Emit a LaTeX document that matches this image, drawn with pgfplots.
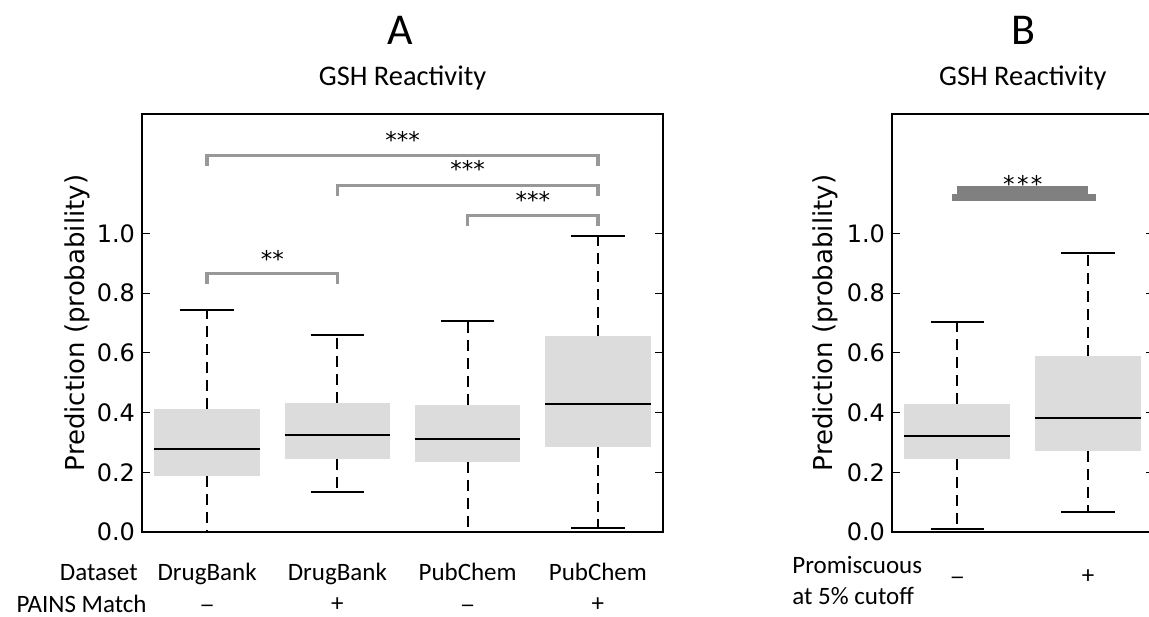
\documentclass[border=0pt]{standalone}
\usepackage{fontspec}
\setmainfont{Carlito}
\newfontfamily\dejavu{DejaVu Sans}
\usepackage{pgfplots}
\pgfplotsset{compat=1.18}
\usepgfplotslibrary{statistics}
\definecolor{boxgray}{RGB}{220,220,220}
\definecolor{brgray}{RGB}{152,152,152}
\definecolor{brdark}{RGB}{128,128,128}

\newcommand{\mn}{{\dejavu\fontsize{9}{10}\selectfont −}}
\tikzset{stars/.style={font=\dejavu\fontsize{11.5}{13}\selectfont, anchor=base, inner sep=0pt}}

\pgfplotsset{
  common/.style={
    scale only axis,
    clip=false,
    ymin=0, ymax=1.4,
    xmin=0.5,
    ytick={0,0.2,0.4,0.6,0.8,1.0},
    yticklabel style={/pgf/number format/fixed,/pgf/number format/fixed zerofill,/pgf/number format/precision=1},
    /pgf/number format/assume math mode=true,
    tick label style={font=\dejavu\fontsize{12}{14}\selectfont},
    xticklabel style={font=\fontsize{12.5}{15}\selectfont, anchor=base},
    tick align=inside,
    ytick pos=both,
    major tick length=4pt,
    ytick style={black, line width=0.6pt},
    xtick style={draw=none},
    axis line style={black, line width=1pt},
    label style={font=\dejavu\fontsize{13}{15}\selectfont},
    title style={font=\fontsize{14.2}{16}\selectfont, anchor=base, at={(axis description cs:0.5,1)}, yshift=8pt},
    title={GSH Reactivity},
    ylabel={Prediction (probability)},
    boxplot/draw direction=y,
    boxplot/box extend=0.81,
    boxplot/whisker extend=0.41,
    boxplot/every box/.style={draw=none, fill=boxgray},
    boxplot/every median/.style={draw=black, line width=1pt},
    boxplot/draw/lower whisker/.code={
      \draw[black, line width=1pt, dash pattern=on 5.5pt off 3.5pt]
        (boxplot box cs:\pgfplotsboxplotvalue{lower quartile},0.5) --
        (boxplot box cs:\pgfplotsboxplotvalue{lower whisker},0.5);
      \draw[black, line width=1pt]
        (boxplot whisker cs:\pgfplotsboxplotvalue{lower whisker},0) --
        (boxplot whisker cs:\pgfplotsboxplotvalue{lower whisker},1);
    },
    boxplot/draw/upper whisker/.code={
      \draw[black, line width=1pt, dash pattern=on 5.5pt off 3.5pt]
        (boxplot box cs:\pgfplotsboxplotvalue{upper quartile},0.5) --
        (boxplot box cs:\pgfplotsboxplotvalue{upper whisker},0.5);
      \draw[black, line width=1pt]
        (boxplot whisker cs:\pgfplotsboxplotvalue{upper whisker},0) --
        (boxplot whisker cs:\pgfplotsboxplotvalue{upper whisker},1);
    },
  },
}

\begin{document}
\begin{tikzpicture}
% ---------------- Panel A ----------------
\begin{axis}[common,
  at={(71pt,42pt)}, anchor=south west,
  width=260.5pt, height=209pt,
  xmax=4.5,
  xtick={1,2,3,4},
  xticklabels={DrugBank,DrugBank,PubChem,PubChem},
  xticklabel style={yshift=-24pt},
  extra x ticks={1,2,3,4},
  extra x tick labels={\mn,+,\mn,+},
  extra x tick style={xticklabel style={yshift=-15.5pt}, major tick length=0pt},
  ylabel style={at={(axis description cs:-0.1248,0.5)}, anchor=center},
]
\addplot[boxplot prepared={lower whisker=0.0, lower quartile=0.188, median=0.279, upper quartile=0.413, upper whisker=0.745, draw position=1}] coordinates {};
\addplot[boxplot prepared={lower whisker=0.134, lower quartile=0.245, median=0.326, upper quartile=0.433, upper whisker=0.661, draw position=2}] coordinates {};
\addplot[boxplot prepared={lower whisker=0.0, lower quartile=0.235, median=0.312, upper quartile=0.426, upper whisker=0.708, draw position=3}] coordinates {};
\addplot[boxplot prepared={lower whisker=0.013, lower quartile=0.285, median=0.430, upper quartile=0.658, upper whisker=0.99, draw position=4}] coordinates {};
% significance brackets
\draw[brgray, line width=1.65pt] (axis cs:1,1.225) -- (axis cs:1,1.262) -- (axis cs:4,1.262) -- (axis cs:4,1.225);
\draw[brgray, line width=1.65pt] (axis cs:2,1.124) -- (axis cs:2,1.161) -- (axis cs:4,1.161) -- (axis cs:4,1.124);
\draw[brgray, line width=1.65pt] (axis cs:3,1.024) -- (axis cs:3,1.060) -- (axis cs:4,1.060) -- (axis cs:4,1.024);
\draw[brgray, line width=1.65pt] (axis cs:1,0.829) -- (axis cs:1,0.866) -- (axis cs:2,0.866) -- (axis cs:2,0.829);
\node[stars] at (axis cs:2.5,1.285) {***};
\node[stars] at (axis cs:3.0,1.188) {***};
\node[stars] at (axis cs:3.5,1.084) {***};
\node[stars] at (axis cs:1.5,0.886) {**};
\end{axis}

% ---------------- Panel B ----------------
\begin{axis}[common,
  at={(446pt,42pt)}, anchor=south west,
  width=130.75pt, height=209pt,
  xmax=2.5,
  xtick={1,2},
  xticklabels={\mn,+},
  xticklabel style={yshift=-25.5pt},
  ylabel style={at={(axis description cs:-0.256,0.5)}, anchor=center},
]
\addplot[boxplot prepared={lower whisker=0.010, lower quartile=0.245, median=0.322, upper quartile=0.430, upper whisker=0.702, draw position=1}] coordinates {};
\addplot[boxplot prepared={lower whisker=0.067, lower quartile=0.272, median=0.383, upper quartile=0.591, upper whisker=0.933, draw position=2}] coordinates {};
\fill[brdark] (axis cs:1.0,1.131) rectangle (axis cs:2.0,1.158);
\fill[brdark] (axis cs:0.955,1.107) rectangle (axis cs:2.06,1.131);
\node[stars] at (axis cs:1.5,1.137) {*\kern1.2pt*\kern1.2pt*};
\end{axis}

% ---------------- free text ----------------
\node[font=\fontsize{22}{24}\selectfont, anchor=base] at (200pt,285.5pt) {A};
\node[font=\fontsize{22}{24}\selectfont, anchor=base] at (511.5pt,285.5pt) {B};
\node[font=\fontsize{12.5}{15}\selectfont, anchor=base east, inner sep=0pt] at (69pt,18pt) {Dataset};
\node[font=\fontsize{12.5}{15}\selectfont, anchor=base east, inner sep=0pt] at (73.5pt,2pt) {PAINS Match};
\node[font=\fontsize{12.5}{15}\selectfont, anchor=base west, inner sep=0pt] at (396pt,21.5pt) {Promiscuous};
\node[font=\fontsize{12.5}{15}\selectfont, anchor=base west, inner sep=0pt] at (396pt,6pt) {at 5\% cutoff};

\pgfresetboundingbox
\useasboundingbox (0pt,0pt) rectangle (574.5pt,308pt);
\end{tikzpicture}
\end{document}
